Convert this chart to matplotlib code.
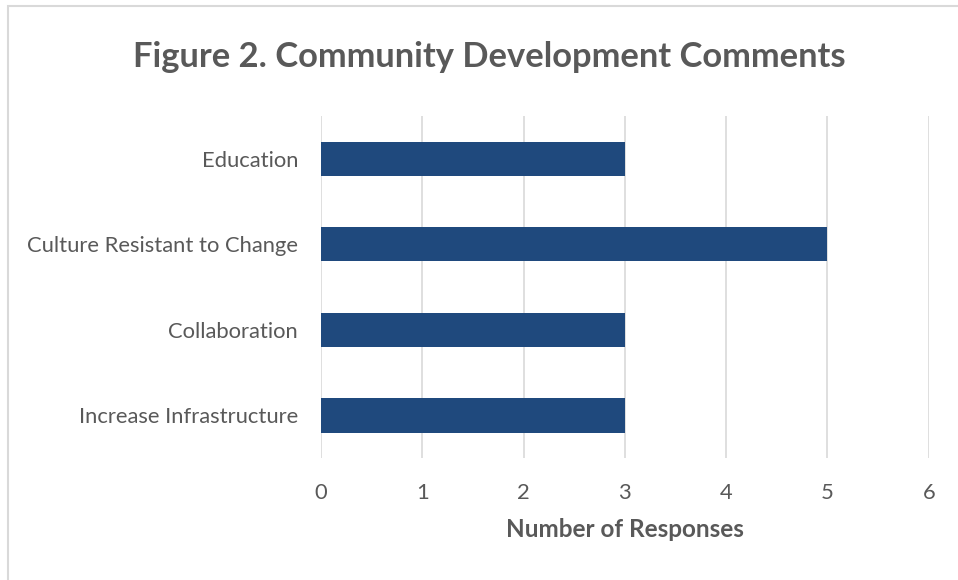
import matplotlib.pyplot as plt
from matplotlib.patches import Rectangle

categories = ["Increase Infrastructure", "Collaboration", "Culture Resistant to Change", "Education"]
responses = [3, 3, 5, 3]
ticks = [0, 1, 2, 3, 4, 5, 6]

plt.rcParams['font.family'] = ['Lato', 'DejaVu Sans']
grey = "#595959"

fig = plt.figure(figsize=(9.58, 5.8), dpi=100)
ax = fig.add_axes([0.335, 0.21, 0.6345, 0.59])

ax.barh(range(len(categories)), responses, height=0.4, color="#1f497d", zorder=3)
ax.set_yticks(range(len(categories)))
ax.set_yticklabels(categories)
ax.set_ylim(-0.5, 3.5)
ax.set_xlim(0, 6)
ax.set_xticks(ticks)

ax.grid(axis='x', color="#d9d9d9", linewidth=1.2, zorder=0)
for s in ax.spines.values():
    s.set_visible(False)
ax.tick_params(length=0, labelsize=15.8, colors=grey)
ax.tick_params(axis='y', pad=16.5)
ax.tick_params(axis='x', pad=18)
ax.set_xlabel("Number of Responses", fontsize=17.5, fontweight='bold', color=grey, labelpad=11)

fig.text(489/958, 1 - 57/580, "Figure 2. Community Development Comments", ha='center', va='center',
         fontsize=24.8, fontweight='bold', color=grey)

# light border round the chart area
fig.patches.append(Rectangle((8/958, -0.01), 1.0, 1 - 6/580 + 0.01, transform=fig.transFigure,
                             fill=False, edgecolor="#d9d9d9", linewidth=1.5))

fig.savefig("out.png", dpi=100)
